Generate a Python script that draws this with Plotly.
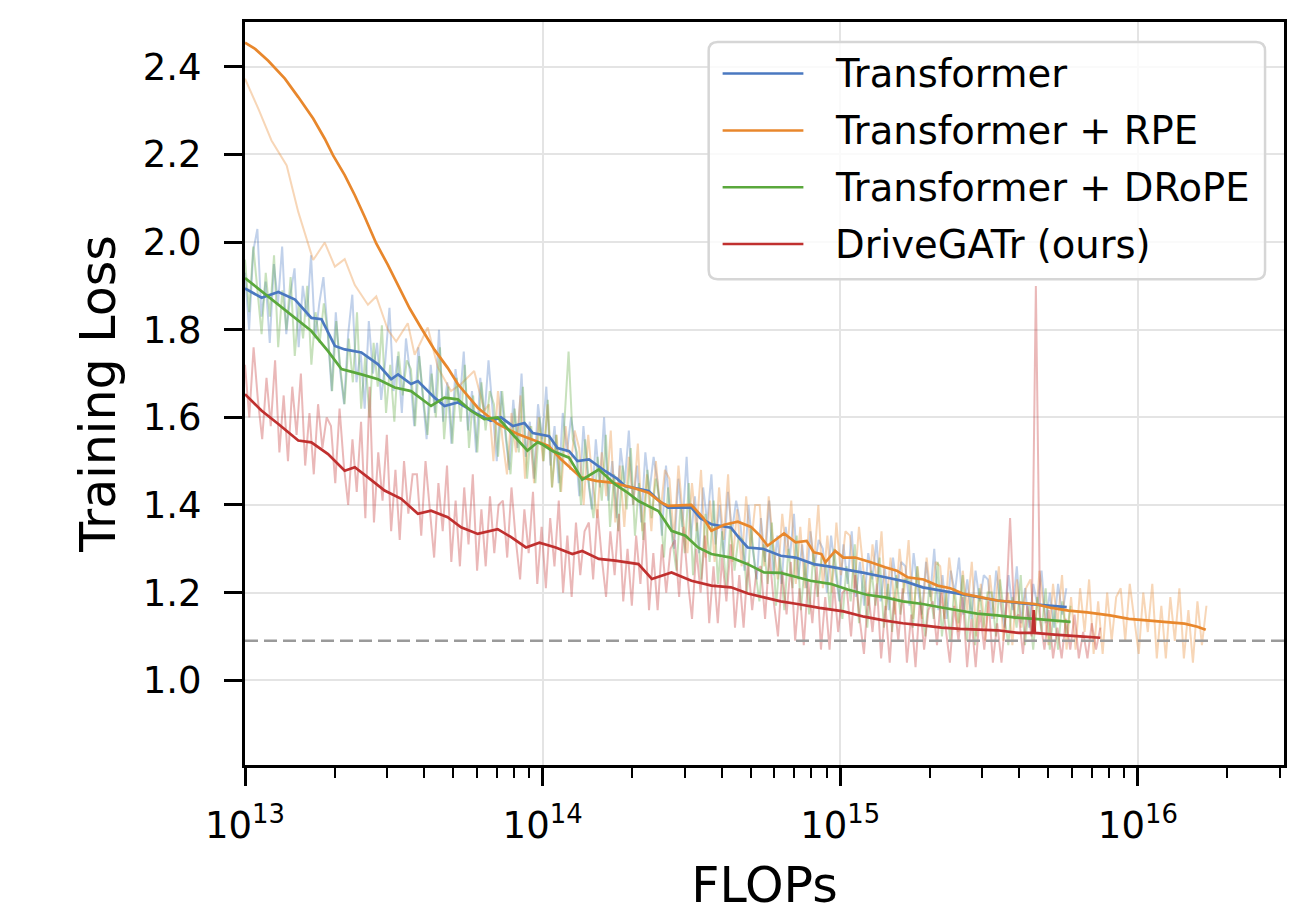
import numpy as np
import plotly.graph_objects as go

# ---------------- data ----------------
series_names = ["Transformer", "Transformer + RPE", "Transformer + DRoPE", "DriveGATr (ours)"]
colors = ["#4a78c0", "#e8872c", "#5aa83c", "#c0302f"]

# smoothed curves: log10(FLOPs) and loss
blue_smooth_logx = [13.0, 13.056, 13.112, 13.168, 13.223, 13.257, 13.302, 13.335, 13.391, 13.447, 13.491, 13.514,
                    13.558, 13.581, 13.637, 13.67, 13.715, 13.782, 13.826, 13.86, 13.9, 13.939, 13.967, 14.022,
                    14.05, 14.089, 14.117, 14.156, 14.211, 14.25, 14.278, 14.356, 14.39, 14.422, 14.5, 14.53,
                    14.567, 14.633, 14.66, 14.689, 14.74, 14.8, 14.85, 14.911, 14.96, 15.011, 15.08, 15.151,
                    15.22, 15.277, 15.35, 15.42, 15.528, 15.62, 15.70, 15.761]
blue_smooth_loss = [1.894, 1.873, 1.886, 1.869, 1.827, 1.824, 1.763, 1.755, 1.748, 1.721, 1.687, 1.698,
                    1.676, 1.683, 1.645, 1.626, 1.634, 1.607, 1.592, 1.60, 1.58, 1.587, 1.564, 1.557,
                    1.53, 1.523, 1.50, 1.504, 1.477, 1.46, 1.443, 1.432, 1.41, 1.394, 1.394, 1.37,
                    1.356, 1.348, 1.325, 1.303, 1.30, 1.284, 1.28, 1.265, 1.26, 1.254, 1.245, 1.235,
                    1.225, 1.212, 1.203, 1.195, 1.182, 1.175, 1.17, 1.167]

orange_smooth_logx = [13.0, 13.034, 13.078, 13.134, 13.179, 13.229, 13.268, 13.296, 13.335, 13.369, 13.402, 13.441,
                      13.48, 13.514, 13.553, 13.592, 13.637, 13.681, 13.715, 13.782, 13.849, 13.916, 13.983, 14.02,
                      14.061, 14.128, 14.18, 14.233, 14.30, 14.356, 14.40, 14.422, 14.5, 14.54, 14.567, 14.61,
                      14.656, 14.70, 14.73, 14.756, 14.811, 14.85, 14.887, 14.911, 14.937, 14.95, 14.983, 15.01,
                      15.05, 15.10, 15.151, 15.19, 15.226, 15.28, 15.327, 15.37, 15.415, 15.47, 15.528, 15.59,
                      15.654, 15.71, 15.767, 15.83, 15.906, 15.97, 16.031, 16.09, 16.157, 16.20, 16.228]
orange_smooth_loss = [2.455, 2.441, 2.414, 2.373, 2.331, 2.282, 2.236, 2.198, 2.153, 2.107, 2.058, 1.997,
                      1.948, 1.902, 1.849, 1.804, 1.754, 1.713, 1.676, 1.622, 1.585, 1.562, 1.545, 1.535,
                      1.505, 1.463, 1.455, 1.451, 1.44, 1.428, 1.405, 1.398, 1.40, 1.37, 1.341, 1.355,
                      1.362, 1.35, 1.33, 1.307, 1.335, 1.315, 1.318, 1.292, 1.288, 1.269, 1.295, 1.28,
                      1.28, 1.27, 1.258, 1.25, 1.235, 1.23, 1.216, 1.21, 1.197, 1.19, 1.182, 1.178,
                      1.174, 1.165, 1.159, 1.155, 1.148, 1.14, 1.136, 1.133, 1.129, 1.122, 1.115]

green_smooth_logx = [13.0, 13.056, 13.112, 13.168, 13.223, 13.279, 13.324, 13.391, 13.447, 13.503, 13.558, 13.625,
                     13.67, 13.715, 13.759, 13.804, 13.849, 13.893, 13.949, 13.983, 14.0, 14.033, 14.089, 14.133,
                     14.189, 14.244, 14.284, 14.322, 14.389, 14.433, 14.48, 14.522, 14.567, 14.633, 14.689, 14.744,
                     14.80, 14.856, 14.90, 14.967, 15.025, 15.09, 15.151, 15.21, 15.277, 15.34, 15.403, 15.46,
                     15.528, 15.59, 15.654, 15.71, 15.774]
green_smooth_loss = [1.918, 1.888, 1.858, 1.827, 1.797, 1.751, 1.71, 1.698, 1.687, 1.668, 1.66, 1.626,
                     1.645, 1.641, 1.615, 1.596, 1.60, 1.566, 1.524, 1.543, 1.538, 1.523, 1.508, 1.458,
                     1.481, 1.447, 1.429, 1.409, 1.386, 1.341, 1.33, 1.303, 1.288, 1.28, 1.265, 1.246,
                     1.245, 1.235, 1.227, 1.22, 1.207, 1.195, 1.189, 1.18, 1.174, 1.166, 1.159, 1.152,
                     1.148, 1.143, 1.14, 1.136, 1.133]

red_smooth_logx = [13.0, 13.056, 13.112, 13.179, 13.223, 13.279, 13.335, 13.369, 13.413, 13.469, 13.525, 13.581,
                   13.625, 13.681, 13.726, 13.782, 13.849, 13.893, 13.944, 13.989, 14.044, 14.1, 14.133, 14.189,
                   14.244, 14.322, 14.367, 14.433, 14.5, 14.567, 14.633, 14.69, 14.744, 14.80, 14.856, 14.93,
                   15.011, 15.08, 15.151, 15.21, 15.277, 15.34, 15.403, 15.47, 15.528, 15.60, 15.646, 15.65,
                   15.654, 15.72, 15.78, 15.83, 15.874]
red_smooth_loss = [1.653, 1.615, 1.585, 1.547, 1.543, 1.516, 1.478, 1.486, 1.463, 1.433, 1.414, 1.38,
                   1.387, 1.372, 1.349, 1.334, 1.345, 1.327, 1.303, 1.314, 1.303, 1.288, 1.295, 1.277,
                   1.273, 1.265, 1.231, 1.246, 1.227, 1.216, 1.212, 1.198, 1.189, 1.18, 1.174, 1.165,
                   1.157, 1.145, 1.136, 1.13, 1.125, 1.12, 1.117, 1.115, 1.114, 1.108, 1.108, 1.16,
                   1.108, 1.104, 1.102, 1.099, 1.097]

# raw (unsmoothed) losses, sampled evenly in log10(FLOPs) between the given bounds
blue_raw_bounds = (1.0e13, 5.75e15)
blue_raw_loss = [
    1.93, 1.80, 1.98, 2.03, 1.83, 1.91, 1.77, 1.95, 1.86, 1.99, 1.79, 1.88, 1.94, 1.76, 1.90, 1.83, 1.97, 1.78, 1.86, 1.92,
    1.80, 1.66, 1.84, 1.71, 1.63, 1.79, 1.88, 1.68, 1.75, 1.62, 1.82, 1.70, 1.77, 1.64, 1.73, 1.85, 1.66, 1.74, 1.61, 1.78,
    1.70, 1.58, 1.76, 1.65, 1.55, 1.72, 1.61, 1.80, 1.59, 1.68, 1.54, 1.71, 1.63, 1.75, 1.57, 1.66, 1.52, 1.69, 1.60, 1.73,
    1.62, 1.50, 1.66, 1.57, 1.48, 1.64, 1.53, 1.70, 1.51, 1.59, 1.46, 1.63, 1.55, 1.67, 1.49, 1.58, 1.45, 1.61, 1.52, 1.60,
    1.54, 1.42, 1.58, 1.47, 1.39, 1.55, 1.44, 1.60, 1.41, 1.50, 1.37, 1.53, 1.45, 1.57, 1.40, 1.49, 1.36, 1.52, 1.43, 1.51,
    1.45, 1.33, 1.49, 1.38, 1.30, 1.46, 1.35, 1.51, 1.32, 1.42, 1.29, 1.44, 1.36, 1.47, 1.31, 1.40, 1.28, 1.43, 1.34, 1.41,
    1.36, 1.25, 1.40, 1.30, 1.23, 1.37, 1.27, 1.41, 1.24, 1.33, 1.22, 1.35, 1.28, 1.38, 1.23, 1.31, 1.21, 1.34, 1.26, 1.32,
    1.30, 1.20, 1.33, 1.25, 1.18, 1.31, 1.22, 1.34, 1.19, 1.27, 1.17, 1.29, 1.23, 1.32, 1.18, 1.26, 1.16, 1.28, 1.21, 1.27,
    1.26, 1.17, 1.29, 1.21, 1.15, 1.27, 1.19, 1.30, 1.16, 1.24, 1.14, 1.25, 1.20, 1.28, 1.15, 1.23, 1.14, 1.25, 1.18, 1.24,
    1.23, 1.14, 1.25, 1.18, 1.12, 1.24, 1.16, 1.26, 1.13, 1.21, 1.12, 1.22, 1.17, 1.25, 1.13, 1.20, 1.12, 1.22, 1.15, 1.21]

green_raw_bounds = (1.0e13, 5.94e15)
green_raw_loss = [
    1.96, 1.84, 1.99, 1.88, 1.79, 1.93, 1.83, 1.97, 1.76, 1.89, 1.80, 1.92, 1.74, 1.86, 1.78, 1.90, 1.72, 1.84, 1.77, 1.86,
    1.79, 1.66, 1.82, 1.71, 1.63, 1.78, 1.68, 1.84, 1.62, 1.74, 1.60, 1.77, 1.67, 1.81, 1.61, 1.72, 1.59, 1.75, 1.65, 1.73,
    1.71, 1.58, 1.74, 1.64, 1.56, 1.70, 1.60, 1.76, 1.55, 1.67, 1.54, 1.69, 1.59, 1.72, 1.53, 1.65, 1.52, 1.68, 1.57, 1.66,
    1.63, 1.51, 1.66, 1.55, 1.47, 1.62, 1.52, 1.67, 1.46, 1.58, 1.45, 1.60, 1.50, 1.64, 1.44, 1.56, 1.43, 1.59, 1.75, 1.55,
    1.52, 1.40, 1.55, 1.44, 1.37, 1.51, 1.41, 1.56, 1.35, 1.47, 1.34, 1.49, 1.39, 1.53, 1.33, 1.45, 1.32, 1.48, 1.37, 1.46,
    1.41, 1.28, 1.44, 1.32, 1.25, 1.40, 1.29, 1.45, 1.24, 1.36, 1.23, 1.38, 1.27, 1.41, 1.22, 1.34, 1.21, 1.36, 1.25, 1.33,
    1.32, 1.20, 1.35, 1.25, 1.18, 1.31, 1.22, 1.36, 1.17, 1.28, 1.16, 1.30, 1.21, 1.33, 1.16, 1.27, 1.15, 1.29, 1.19, 1.28,
    1.27, 1.16, 1.30, 1.21, 1.14, 1.26, 1.18, 1.31, 1.13, 1.24, 1.12, 1.25, 1.17, 1.28, 1.12, 1.22, 1.11, 1.24, 1.15, 1.23,
    1.23, 1.12, 1.26, 1.17, 1.10, 1.22, 1.14, 1.27, 1.10, 1.20, 1.09, 1.21, 1.13, 1.24, 1.09, 1.19, 1.08, 1.21, 1.12, 1.20,
    1.20, 1.10, 1.23, 1.15, 1.08, 1.19, 1.12, 1.24, 1.08, 1.17, 1.07, 1.19, 1.11, 1.21, 1.07, 1.16, 1.07, 1.18, 1.10, 1.17]

red_raw_bounds = (1.0e13, 7.48e15)
red_raw_loss = [
    1.72, 1.60, 1.76, 1.64, 1.55, 1.69, 1.58, 1.73, 1.52, 1.65, 1.50, 1.67, 1.56, 1.70, 1.49, 1.61, 1.47, 1.63, 1.53, 1.60,
    1.58, 1.45, 1.62, 1.49, 1.40, 1.55, 1.43, 1.59, 1.37, 1.67, 1.36, 1.52, 1.41, 1.56, 1.34, 1.48, 1.32, 1.50, 1.38, 1.47,
    1.47, 1.33, 1.50, 1.38, 1.28, 1.45, 1.34, 1.49, 1.27, 1.41, 1.26, 1.44, 1.31, 1.47, 1.25, 1.39, 1.26, 1.42, 1.29, 1.40,
    1.41, 1.28, 1.44, 1.32, 1.23, 1.39, 1.29, 1.43, 1.22, 1.35, 1.21, 1.37, 1.26, 1.41, 1.20, 1.33, 1.19, 1.36, 1.24, 1.34,
    1.36, 1.23, 1.39, 1.28, 1.19, 1.34, 1.24, 1.38, 1.18, 1.30, 1.17, 1.33, 1.22, 1.36, 1.16, 1.29, 1.16, 1.31, 1.20, 1.30,
    1.32, 1.19, 1.35, 1.23, 1.14, 1.30, 1.20, 1.33, 1.13, 1.26, 1.13, 1.28, 1.18, 1.31, 1.12, 1.24, 1.12, 1.27, 1.16, 1.25,
    1.26, 1.14, 1.29, 1.18, 1.10, 1.25, 1.15, 1.27, 1.09, 1.21, 1.08, 1.23, 1.13, 1.26, 1.07, 1.19, 1.07, 1.22, 1.11, 1.20,
    1.21, 1.10, 1.24, 1.14, 1.06, 1.20, 1.11, 1.22, 1.05, 1.17, 1.04, 1.19, 1.09, 1.21, 1.04, 1.15, 1.03, 1.18, 1.07, 1.16,
    1.18, 1.08, 1.20, 1.12, 1.04, 1.17, 1.09, 1.19, 1.03, 1.14, 1.03, 1.16, 1.07, 1.18, 1.04, 1.13, 1.04, 1.15, 1.37, 1.14,
    1.15, 1.06, 1.17, 1.10, 1.90, 1.14, 1.07, 1.16, 1.05, 1.12, 1.05, 1.14, 1.07, 1.15, 1.05, 1.11, 1.05, 1.13, 1.07, 1.12]

# RPE raw: sparse early log points, then dense logging
orange_raw_early_logx = [13.0, 13.045, 13.089, 13.14, 13.179, 13.229, 13.268, 13.302, 13.335, 13.369, 13.413,
                         13.441, 13.48, 13.508, 13.547, 13.57, 13.614, 13.648, 13.692, 13.726, 13.77, 13.804]
orange_raw_early_loss = [2.373, 2.304, 2.232, 2.175, 2.069, 1.959, 1.999, 1.944, 1.961, 1.902, 1.857,
                         1.876, 1.80, 1.773, 1.815, 1.743, 1.805, 1.714, 1.66, 1.676, 1.706, 1.615]
orange_raw_bounds = (6.6e13, 1.70e16)
orange_raw_loss = [
    1.63, 1.50, 1.66, 1.55, 1.47, 1.61, 1.52, 1.65, 1.46, 1.58, 1.45, 1.60, 1.50, 1.63, 1.44, 1.56, 1.43, 1.58, 1.48, 1.57,
    1.53, 1.40, 1.56, 1.45, 1.37, 1.52, 1.42, 1.57, 1.36, 1.49, 1.35, 1.51, 1.40, 1.54, 1.34, 1.47, 1.34, 1.50, 1.38, 1.48,
    1.46, 1.32, 1.49, 1.37, 1.29, 1.45, 1.34, 1.48, 1.28, 1.41, 1.27, 1.44, 1.32, 1.47, 1.27, 1.39, 1.26, 1.42, 1.30, 1.40,
    1.40, 1.26, 1.42, 1.31, 1.23, 1.38, 1.28, 1.41, 1.22, 1.35, 1.21, 1.37, 1.26, 1.40, 1.21, 1.33, 1.20, 1.36, 1.24, 1.34,
    1.33, 1.21, 1.35, 1.25, 1.17, 1.31, 1.22, 1.34, 1.16, 1.28, 1.15, 1.30, 1.20, 1.32, 1.14, 1.26, 1.14, 1.28, 1.18, 1.27,
    1.26, 1.14, 1.28, 1.19, 1.11, 1.25, 1.16, 1.27, 1.10, 1.22, 1.09, 1.24, 1.14, 1.26, 1.09, 1.20, 1.08, 1.23, 1.12, 1.21,
    1.23, 1.11, 1.25, 1.16, 1.08, 1.22, 1.13, 1.24, 1.07, 1.19, 1.07, 1.21, 1.11, 1.23, 1.06, 1.18, 1.06, 1.20, 1.09, 1.19,
    1.21, 1.09, 1.22, 1.14, 1.06, 1.20, 1.11, 1.22, 1.05, 1.17, 1.05, 1.19, 1.09, 1.21, 1.05, 1.16, 1.04, 1.18, 1.08, 1.17]

reference_loss = 1.09

x_major_ticks = [1e13, 1e14, 1e15, 1e16]
x_major_labels = ["10<sup>13</sup>", "10<sup>14</sup>", "10<sup>15</sup>", "10<sup>16</sup>"]
y_ticks = [1.0, 1.2, 1.4, 1.6, 1.8, 2.0, 2.2, 2.4]
y_labels = ["1.0", "1.2", "1.4", "1.6", "1.8", "2.0", "2.2", "2.4"]
x_label = "FLOPs"
y_label = "Training Loss"


def raw_x(bounds, n):
    return 10 ** np.linspace(np.log10(bounds[0]), np.log10(bounds[1]), n)


def rgba(hexcol, a):
    h = hexcol.lstrip("#")
    r, g, b = int(h[0:2], 16), int(h[2:4], 16), int(h[4:6], 16)
    return f"rgba({r},{g},{b},{a})"


FONT = "DejaVu Sans"
fig = go.Figure()

# raw traces
RAW_A = 0.34
RAW_W = 2.0
fig.add_trace(go.Scatter(x=raw_x(blue_raw_bounds, len(blue_raw_loss)), y=blue_raw_loss, mode="lines",
                         line=dict(color=rgba(colors[0], RAW_A), width=RAW_W), showlegend=False, hoverinfo="skip"))
orange_raw_x = np.concatenate([10 ** np.array(orange_raw_early_logx), raw_x(orange_raw_bounds, len(orange_raw_loss))])
orange_raw_y = list(orange_raw_early_loss) + list(orange_raw_loss)
fig.add_trace(go.Scatter(x=orange_raw_x, y=orange_raw_y, mode="lines",
                         line=dict(color=rgba(colors[1], RAW_A), width=RAW_W), showlegend=False, hoverinfo="skip"))
fig.add_trace(go.Scatter(x=raw_x(green_raw_bounds, len(green_raw_loss)), y=green_raw_loss, mode="lines",
                         line=dict(color=rgba(colors[2], RAW_A), width=RAW_W), showlegend=False, hoverinfo="skip"))
fig.add_trace(go.Scatter(x=raw_x(red_raw_bounds, len(red_raw_loss)), y=red_raw_loss, mode="lines",
                         line=dict(color=rgba(colors[3], RAW_A), width=RAW_W), showlegend=False, hoverinfo="skip"))

# smoothed traces
smooth = [(blue_smooth_logx, blue_smooth_loss), (orange_smooth_logx, orange_smooth_loss),
          (green_smooth_logx, green_smooth_loss), (red_smooth_logx, red_smooth_loss)]
for (lx, ly), name, col in zip(smooth, series_names, colors):
    fig.add_trace(go.Scatter(x=10 ** np.array(lx), y=ly, mode="lines", name=name,
                             line=dict(color=col, width=2.7), showlegend=False))

# minor ticks on log axis
minor_vals = [m * 10 ** e for e in range(13, 17) for m in range(2, 10) if m * 10 ** e < 3.1e16]

axis_common = dict(showline=True, linewidth=3, linecolor="black", mirror=True, ticks="outside",
                   ticklen=18, tickwidth=3, tickcolor="black", showgrid=True, gridcolor="#e4e4e4",
                   gridwidth=2, zeroline=False, tickfont=dict(family=FONT, size=37, color="black"))

# the page body adds an 8 px offset; plot area targets x 245..1287, y 20..765 on the page
fig.update_layout(
    width=1290, height=907,
    margin=dict(l=237, r=11, t=12, b=150),
    paper_bgcolor="white", plot_bgcolor="white",
    font=dict(family=FONT, color="black"),
    xaxis=dict(type="log", range=[13, 16.491], tickvals=x_major_ticks, ticktext=x_major_labels,
               minor=dict(tickvals=minor_vals, ticks="outside", ticklen=10, tickwidth=2, tickcolor="black",
                          showgrid=False),
               title=dict(text=x_label, font=dict(family=FONT, size=49, color="black"), standoff=22),
               ticklabelstandoff=8, **axis_common),
    yaxis=dict(range=[0.8065, 2.5024], tickvals=y_ticks, ticktext=y_labels,
               title=dict(text=y_label, font=dict(family=FONT, size=49, color="black"), standoff=12),
               ticklabelstandoff=15, **axis_common),
)

# reference dashed line
fig.add_shape(type="line", xref="paper", x0=0, x1=1, yref="y", y0=reference_loss, y1=reference_loss,
              line=dict(color="#9a9a9a", width=2.5, dash="13px,6px"), layer="above")

# legend (manual, matplotlib-like rounded frame); positions given in page pixels of the plot area
PW, PH, PL, PT = 1042.0, 745.0, 245.0, 20.0


def px(xp):
    return (xp - PL) / PW


def py(yp):
    return (PT + PH - yp) / PH


x0, x1, y0, y1 = px(710), px(1268), py(278), py(40)
rx, ry = 9 / PW, 9 / PH
path = (f"M {x0+rx},{y1} L {x1-rx},{y1} Q {x1},{y1} {x1},{y1-ry} L {x1},{y0+ry} Q {x1},{y0} {x1-rx},{y0} "
        f"L {x0+rx},{y0} Q {x0},{y0} {x0},{y0+ry} L {x0},{y1-ry} Q {x0},{y1} {x0+rx},{y1} Z")
fig.add_shape(type="path", xref="paper", yref="paper", path=path, fillcolor="rgba(255,255,255,0.8)",
              line=dict(color="#d6d6d6", width=2.5), layer="above")
row_y = [71.7, 128.7, 185.7, 242.7]
for name, col, yy in zip(series_names, colors, row_y):
    fig.add_shape(type="line", xref="paper", yref="paper", x0=px(724), x1=px(805), y0=py(yy), y1=py(yy),
                  line=dict(color=col, width=2.5), layer="above")
    fig.add_annotation(xref="paper", yref="paper", x=px(835), y=py(yy), text=name, showarrow=False,
                       xanchor="left", yanchor="middle", font=dict(family=FONT, size=38.5, color="black"))

fig.write_html("out.html")
